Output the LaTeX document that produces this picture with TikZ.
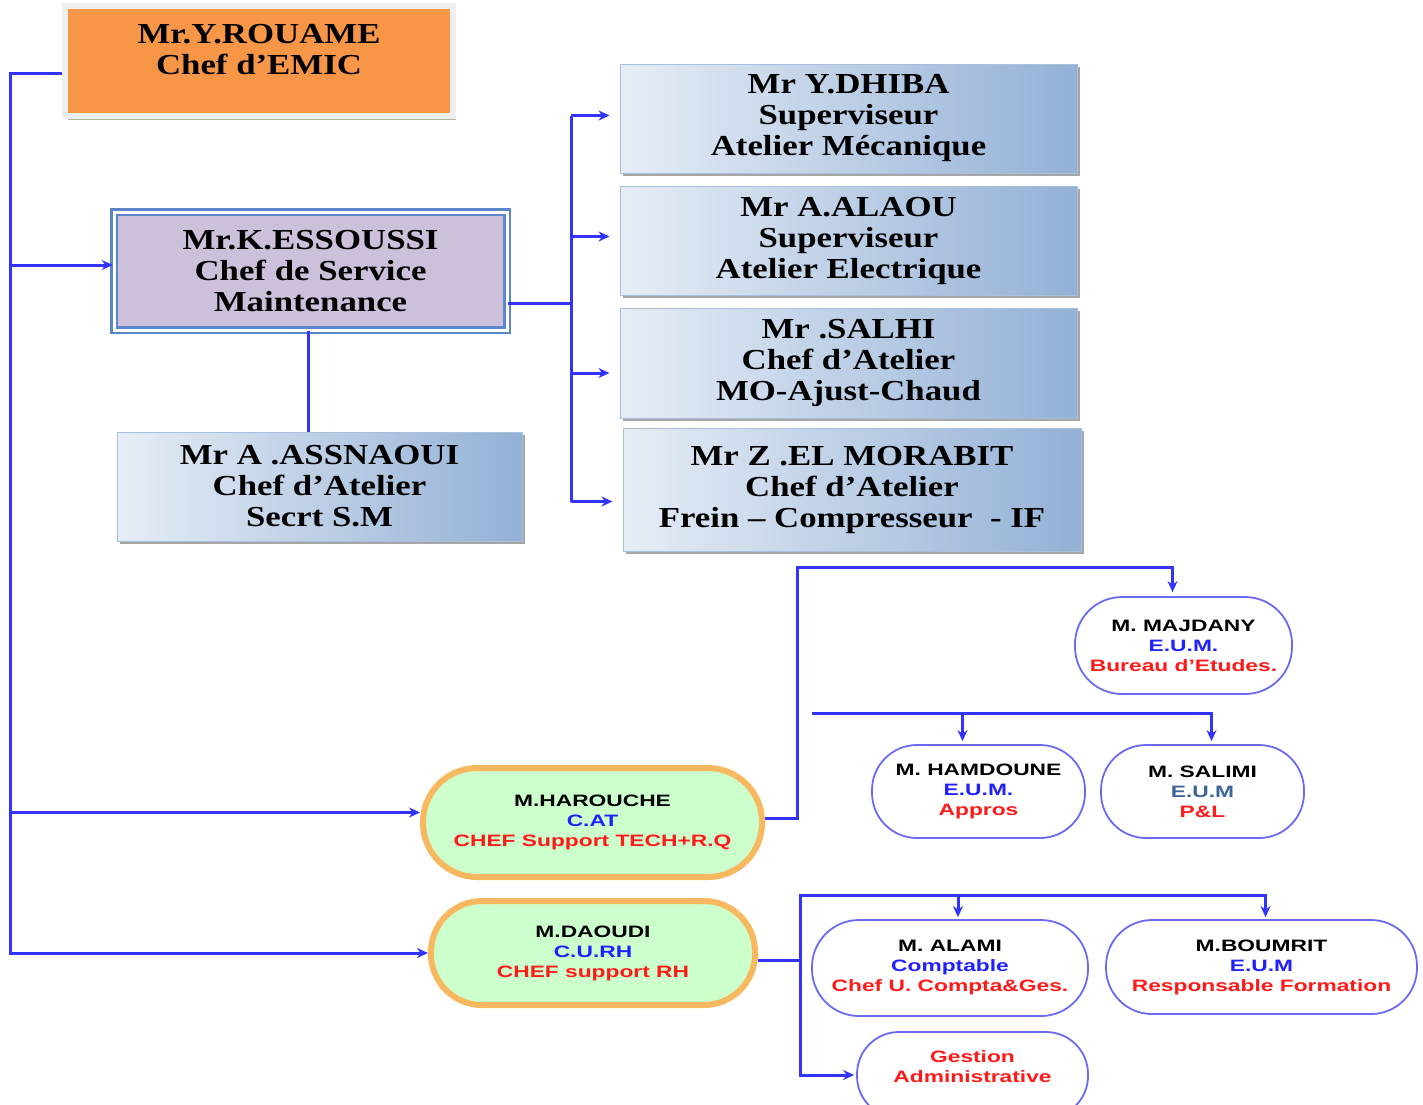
\documentclass[tikz,border=0pt]{standalone}
\usepackage{fontspec}
\usepackage{tikz}
\usetikzlibrary{arrows.meta,shadows}
\newfontfamily\boxfont[FakeStretch=1.2]{Liberation Serif}
\newfontfamily\pillfont[FakeStretch=1.38]{Liberation Sans}
\definecolor{linkblue}{HTML}{3333FF}
\definecolor{orangebox}{HTML}{F79646}
\definecolor{framegray}{HTML}{EFEFEF}
\definecolor{shadowgreen}{HTML}{AEB79C}
\definecolor{purplebox}{HTML}{CCC0DA}
\definecolor{dblblue}{HTML}{5B87C8}
\definecolor{gradlight}{HTML}{E6EDF6}
\definecolor{graddark}{HTML}{93B1D6}
\definecolor{gradborder}{HTML}{A9C0DD}
\definecolor{pillgreen}{HTML}{CCFFCC}
\definecolor{pillorange}{HTML}{F8B860}
\definecolor{pillblue}{HTML}{6A6AF2}
\definecolor{textblue}{HTML}{2020FF}
\definecolor{textred}{HTML}{FF1A1A}
\definecolor{textsteel}{HTML}{3D6698}

\begin{document}
\begin{tikzpicture}[x=1pt,y=-1pt,
	link/.style={draw=linkblue,line width=3pt},
	arrow/.style={link,-{Stealth[length=11pt,width=10pt]}},
	chief/.style={font=\boxfont\bfseries\fontsize{29}{31}\selectfont,align=center,inner sep=0pt},
	gradbox/.style={chief,left color=gradlight,right color=graddark,draw=gradborder,line width=1pt,
		drop shadow={shadow xshift=3pt,shadow yshift=-3pt,fill=gray,opacity=0.7}},
	pill/.style={font=\pillfont\bfseries\fontsize{16.5}{20}\selectfont,align=center,inner sep=0pt,
		fill=white,draw=pillblue,line width=1.8pt},
	greenpill/.style={pill,fill=pillgreen,draw=pillorange,line width=6pt}]
	\path[use as bounding box] (0,0) rectangle (1423,1104);
	\clip (0,0) rectangle (1423,1104);

	\node[chief,fill=orangebox,draw=framegray,line width=6pt,minimum width=388,minimum height=110,
		drop shadow={shadow xshift=3pt,shadow yshift=-4pt,fill=shadowgreen,opacity=1}]
		(rouame) at (259,61) {Mr.Y.ROUAME\\Chef d’EMIC\\[-7pt]\mbox{}};
	\node[chief,fill=purplebox,draw=dblblue,line width=2.5pt,double=white,double distance=3pt,
		minimum width=393,minimum height=118] (essoussi) at (310.5,271) {Mr.K.ESSOUSSI\\Chef de Service\\Maintenance};
	\node[gradbox,minimum width=405,minimum height=109] (assnaoui) at (319.5,486.5) {Mr A .ASSNAOUI\\Chef d’Atelier\\Secrt S.M};

	\node[gradbox,minimum width=457,minimum height=109] (dhiba) at (848.5,118.5) {Mr Y.DHIBA\\Superviseur\\Atelier Mécanique};
	\node[gradbox,minimum width=457,minimum height=109] (alaou) at (848.5,240.5) {Mr A.ALAOU\\Superviseur\\Atelier Electrique};
	\node[gradbox,minimum width=457,minimum height=110] (salhi) at (848.5,363) {Mr .SALHI\\Chef d’Atelier\\MO-Ajust-Chaud};
	\node[gradbox,minimum width=458,minimum height=123] (morabit) at (852,489.5) {Mr Z .EL MORABIT\\Chef d’Atelier\\Frein – Compresseur ~- IF};

	\node[greenpill,minimum width=339,minimum height=109,rounded corners=54pt] (harouche) at (592.5,822.5)
		{M.HAROUCHE\\\textcolor{textblue}{C.AT}\\\textcolor{textred}{CHEF Support TECH+R.Q}};
	\node[greenpill,minimum width=324,minimum height=104,rounded corners=51pt] (daoudi) at (593,953)
		{M.DAOUDI\\\textcolor{textblue}{C.U.RH}\\\textcolor{textred}{CHEF support RH}};

	\node[pill,minimum width=217,minimum height=97,rounded corners=47pt] (majdany) at (1183.5,645.5)
		{M. MAJDANY\\\textcolor{textblue}{E.U.M.}\\\textcolor{textred}{Bureau d’Etudes.}};
	\node[pill,minimum width=213,minimum height=93,rounded corners=45pt] (hamdoune) at (978.5,791.5)
		{M. HAMDOUNE\\\textcolor{textblue}{E.U.M.}\\\textcolor{textred}{Appros}};
	\node[pill,minimum width=203,minimum height=93,rounded corners=45pt] (salim) at (1202.5,791.5)
		{M. SALIMI\\\textcolor{textsteel}{E.U.M}\\\textcolor{textred}{P\&L}};
	\node[pill,minimum width=276,minimum height=96,rounded corners=47pt] (alami) at (950,968)
		{M. ALAMI\\\textcolor{textblue}{Comptable}\\\textcolor{textred}{Chef U. Compta\&Ges.}};
	\node[pill,minimum width=311,minimum height=94,rounded corners=46pt] (boumrit) at (1261.5,967)
		{M.BOUMRIT\\\textcolor{textblue}{E.U.M}\\\textcolor{textred}{Responsable Formation}};
	\node[pill,minimum width=231,minimum height=86,rounded corners=42pt] (gestion) at (972.5,1075)
		{\textcolor{textred}{Gestion}\\\textcolor{textred}{Administrative}\\[-2pt]\mbox{}};

	\coordinate (trunk) at (10,73);
	\coordinate (bus) at (571,303);
	\coordinate (corner) at (797,567);
	\coordinate (hub) at (812,713);
	\coordinate (rhbus) at (800,895);

	\draw[arrow] ([yshift=-12pt]rouame.west) -| (trunk |- daoudi.west) -- (daoudi.west);
	\draw[arrow] ([yshift=6pt]essoussi.west -| trunk) -- ([yshift=6pt]essoussi.west);
	\draw[arrow] ([yshift=10pt]harouche.west -| trunk) -- ([yshift=10pt]harouche.west);
	\draw[link] ([xshift=-2pt]essoussi.south) -- ([xshift=-2pt]essoussi.south |- assnaoui.north);

	\draw[link] ([yshift=-32pt]essoussi.east) -- (bus);
	\draw[link] ([yshift=3pt]dhiba.west -| bus) -- ([yshift=-12pt]morabit.west -| bus);
	\foreach \b/\s in {dhiba/3,alaou/4,salhi/-10,morabit/-12}
		\draw[arrow,shorten >=10pt] ([yshift=\s pt]\b.west -| bus) -- ([yshift=\s pt]\b.west);

	\draw[arrow,shorten >=4pt] ([yshift=4pt]harouche.east) -| (corner) -| ([xshift=-11pt]majdany.north);
	\draw[link] (hub) -- ([xshift=9pt]salim.north |- hub);
	\draw[arrow,shorten >=3pt] (hub) -| ([xshift=-16pt]hamdoune.north);
	\draw[arrow,shorten >=3pt] (hub) -| ([xshift=9pt]salim.north);

	\draw[arrow,shorten >=2pt] ([yshift=-7pt]daoudi.east) -| (rhbus) -| ([xshift=8pt]alami.north);
	\draw[arrow,shorten >=2pt] (rhbus) -| ([xshift=4pt]boumrit.north);
	\draw[arrow,shorten >=2pt] (rhbus) |- (gestion.west);
\end{tikzpicture}
\end{document}
